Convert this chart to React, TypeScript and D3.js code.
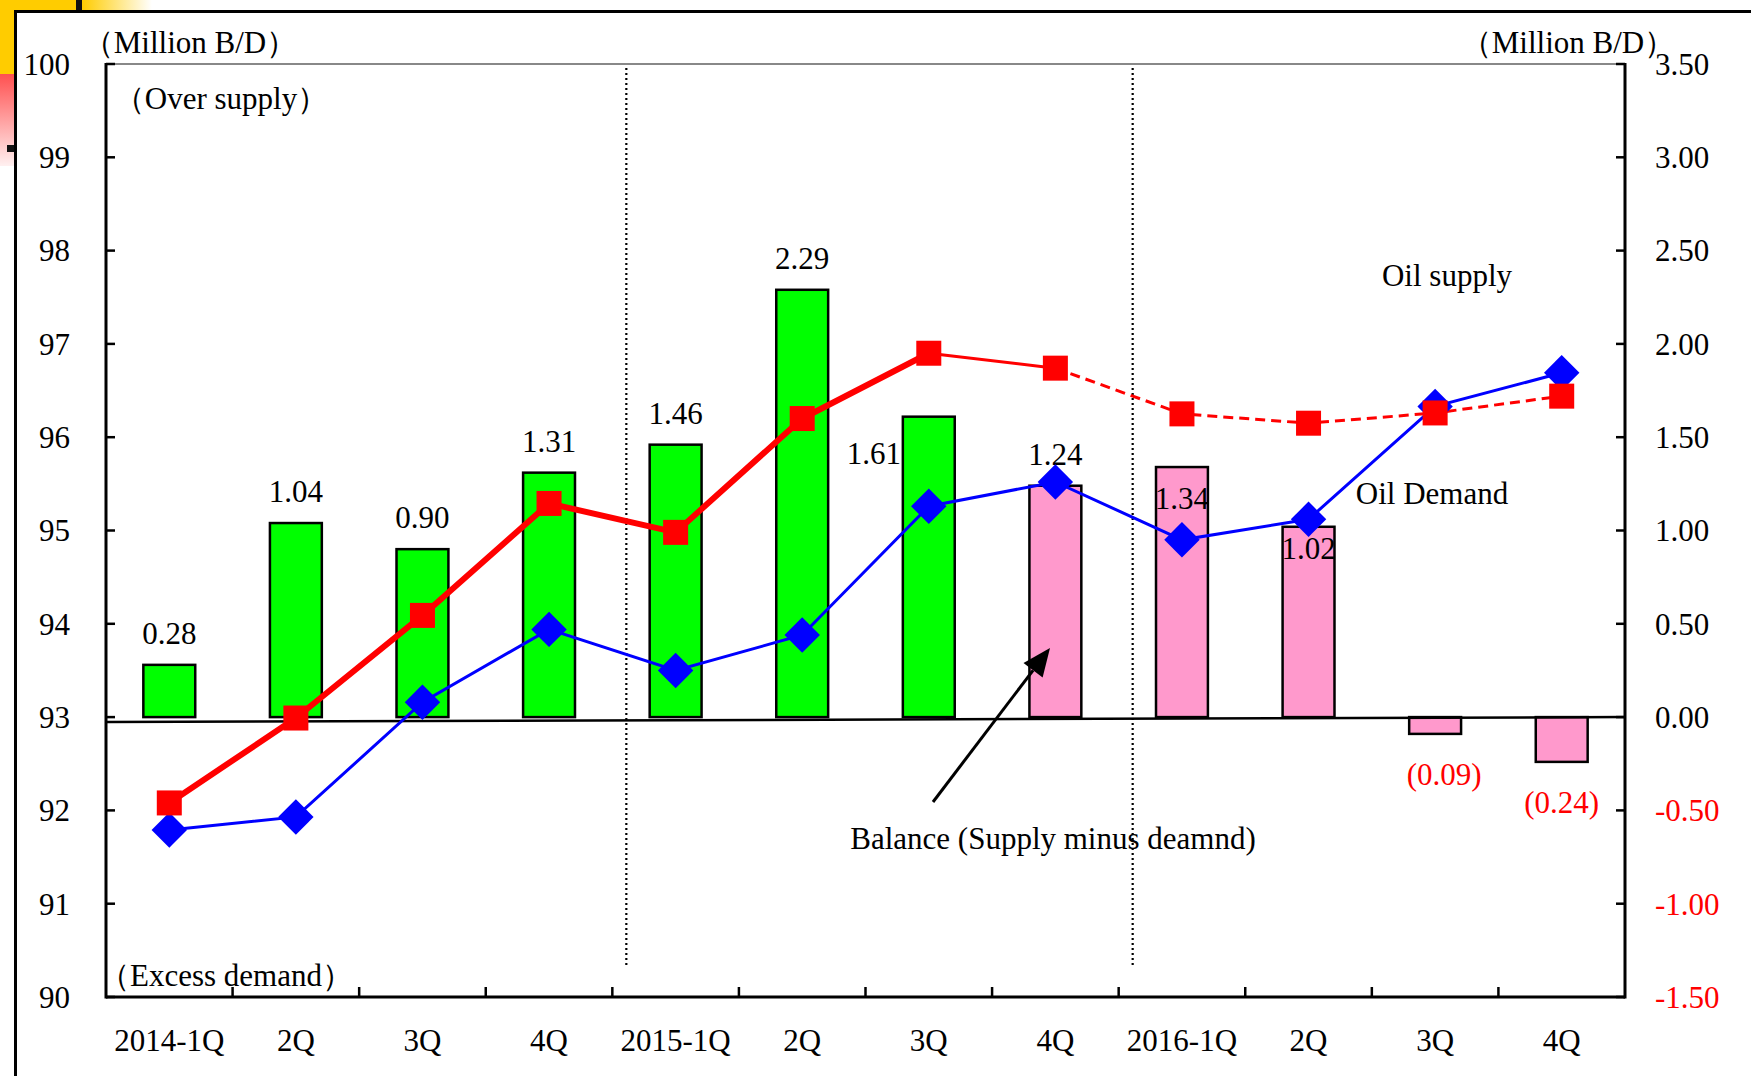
import React from 'react'
import * as d3 from 'd3'

const quarters = ['2014-1Q', '2Q', '3Q', '4Q', '2015-1Q', '2Q', '3Q', '4Q', '2016-1Q', '2Q', '3Q', '4Q']
const balance = [0.28, 1.04, 0.9, 1.31, 1.46, 2.29, 1.61, 1.24, 1.34, 1.02, -0.09, -0.24]
const balanceLabels = ['0.28', '1.04', '0.90', '1.31', '1.46', '2.29', '1.61', '1.24', '1.34', '1.02', '(0.09)', '(0.24)']
const oilSupply = [92.08, 92.99, 94.09, 95.29, 94.98, 96.2, 96.9, 96.74, 96.25, 96.15, 96.26, 96.44]
const oilDemand = [91.79, 91.93, 93.16, 93.94, 93.5, 93.88, 95.26, 95.52, 94.9, 95.12, 96.33, 96.69]
const leftTicks = [90, 91, 92, 93, 94, 95, 96, 97, 98, 99, 100]
const rightTicks = [3.5, 3.0, 2.5, 2.0, 1.5, 1.0, 0.5, 0.0, -0.5, -1.0, -1.5]

// label nudges (dx, dy) for the bar values that sit off the default spot
const labelNudge: Record<number, [number, number]> = {
  6: [-55, 68],
  8: [0, 63],
  9: [0, 53],
  10: [9, 0],
}

const W = 1751
const H = 1076
const L = 106, R = 1625, T = 64, B = 997
const FONT = '"Liberation Serif", "Times New Roman", serif'
const FS = 31

export default function App() {
  const x = d3.scaleBand<number>().domain(d3.range(quarters.length)).range([L, R])
  const yL = d3.scaleLinear().domain([90, 100]).range([B, T])
  const yR = d3.scaleLinear().domain([-1.5, 3.5]).range([B, T])
  const cx = (i: number) => (x(i) as number) + x.bandwidth() / 2
  const bw = x.bandwidth() * 0.41
  const fmtR = (t: number) => d3.format('.2f')(t).replace('\u2212', '-')

  const line = d3.line<number>().x((_, i) => cx(i)).y(d => yL(d))
  const supplyPts = oilSupply.map((v, i) => [cx(i), yL(v)] as [number, number])
  const seg = (a: number, b: number) =>
    d3.line<[number, number]>()(supplyPts.slice(a, b + 1)) as string

  const dividers = [4, 8].map(i => (x(i) as number) + 14)

  // arrow
  const a0: [number, number] = [933, 802]
  const a1: [number, number] = [1050, 648]
  const ang = Math.atan2(a1[1] - a0[1], a1[0] - a0[0])
  const hl = 28, hw = 12
  const bx = a1[0] - hl * Math.cos(ang), by = a1[1] - hl * Math.sin(ang)
  const head = [
    a1,
    [bx + hw * Math.sin(ang), by - hw * Math.cos(ang)],
    [bx - hw * Math.sin(ang), by + hw * Math.cos(ang)],
  ].map(p => p.join(',')).join(' ')

  return (
    <svg width={W} height={H} style={{ position: 'absolute', left: 0, top: 0, background: '#fff' }}
      fontFamily={FONT} fontSize={FS}>
      <defs>
        <linearGradient id="yl" x1="0" x2="1" y1="0" y2="0">
          <stop offset="0" stopColor="#ffcc00" />
          <stop offset="1" stopColor="#ffffff" />
        </linearGradient>
        <linearGradient id="rd" x1="0" x2="0" y1="0" y2="1">
          <stop offset="0" stopColor="#ff5050" />
          <stop offset="1" stopColor="#fff0f0" />
        </linearGradient>
      </defs>
      <rect width={W} height={H} fill="#fff" />
      {/* slide decoration */}
      <rect x={0} y={0} width={15} height={74} fill="#ffcc00" />
      <rect x={15} y={0} width={68} height={11} fill="#ffcc00" />
      <rect x={82} y={0} width={70} height={11} fill="url(#yl)" />
      <rect x={0} y={74} width={15} height={92} fill="url(#rd)" />
      <rect x={76} y={0} width={6} height={11} fill="#111" />
      <rect x={7} y={145} width={7} height={7} fill="#111" />
      <path d={`M15.5,${H}V11.5H${W}`} fill="none" stroke="#000" strokeWidth={3} />

      {/* plot frame */}
      <line x1={L} x2={R} y1={T} y2={T} stroke="#888" strokeWidth={2} />

      {/* bars */}
      {balance.map((v, i) => (
        <rect key={i} x={cx(i) - bw / 2} width={bw}
          y={Math.min(yR(v), yR(0))} height={Math.abs(yR(v) - yR(0))}
          fill={i < 7 ? '#00ff00' : '#ff99cc'} stroke="#000" strokeWidth={2.5} />
      ))}
      {/* zero line */}
      <line x1={L} x2={R} y1={yR(0) + 5} y2={yR(0)} stroke="#000" strokeWidth={2.5} />

      {/* dividers */}
      {dividers.map((d, k) => (
        <line key={k} x1={d} x2={d} y1={T + 4} y2={967} stroke="#000" strokeWidth={2.2}
          strokeDasharray="2 3" />
      ))}

      {/* bar labels */}
      {balance.map((v, i) => {
        const [dx, dy] = labelNudge[i] || [0, 0]
        const baseY = v >= 0 ? yR(v) - 32 : yR(v) + 40
        return (
          <text key={i} x={cx(i) + dx} y={baseY + dy} dy="0.35em" textAnchor="middle"
            fill={v >= 0 ? '#000' : '#ff0000'}>{balanceLabels[i]}</text>
        )
      })}

      {/* supply line */}
      <path d={seg(0, 6)} fill="none" stroke="#ff0000" strokeWidth={6} strokeLinejoin="round" />
      <path d={seg(6, 7)} fill="none" stroke="#ff0000" strokeWidth={3} />
      <path d={seg(7, 11)} fill="none" stroke="#ff0000" strokeWidth={3} strokeDasharray="10 6" />
      {/* demand line */}
      <path d={line(oilDemand) as string} fill="none" stroke="#0000ff" strokeWidth={3} />
      {oilDemand.map((v, i) => (
        <path key={i} d={d3.symbol(d3.symbolDiamond2, 800)() as string}
          transform={`translate(${cx(i)},${yL(v)})`} fill="#0000ff" />
      ))}
      {oilSupply.map((v, i) => (
        <rect key={i} x={cx(i) - 12.5} y={yL(v) - 12.5} width={25} height={25} fill="#ff0000" />
      ))}

      {/* axes */}
      <line x1={L} x2={L} y1={T - 1} y2={B + 1.5} stroke="#000" strokeWidth={3} />
      <line x1={R} x2={R} y1={T - 1} y2={B + 1.5} stroke="#000" strokeWidth={3} />
      <line x1={L} x2={R} y1={B} y2={B} stroke="#000" strokeWidth={3} />
      {leftTicks.map(t => (
        <g key={t}>
          <line x1={L} x2={L + 9} y1={yL(t)} y2={yL(t)} stroke="#000" strokeWidth={2.5} />
          <text x={70} y={yL(t)} dy="0.35em" textAnchor="end">{t}</text>
        </g>
      ))}
      {rightTicks.map(t => (
        <g key={t}>
          <line x1={R - 9} x2={R} y1={yR(t)} y2={yR(t)} stroke="#000" strokeWidth={2.5} />
          <text x={1655} y={yR(t)} dy="0.35em" fill={t < 0 ? '#ff0000' : '#000'}>{fmtR(t)}</text>
        </g>
      ))}
      {d3.range(1, quarters.length).map(i => (
        <line key={i} x1={x(i)} x2={x(i)} y1={B} y2={B - 10} stroke="#000" strokeWidth={2.5} />
      ))}
      {quarters.map((q, i) => (
        <text key={i} x={cx(i)} y={1040} dy="0.35em" textAnchor="middle">{q}</text>
      ))}

      {/* annotations */}
      <text x={190} y={42} dy="0.35em" textAnchor="middle">（Million B/D）</text>
      <text x={1568} y={42} dy="0.35em" textAnchor="middle">（Million B/D）</text>
      <text x={221} y={98} dy="0.35em" textAnchor="middle">（Over supply）</text>
      <text x={226} y={975} dy="0.35em" textAnchor="middle">（Excess demand）</text>
      <text x={1447} y={275} dy="0.35em" textAnchor="middle">Oil supply</text>
      <text x={1432} y={493} dy="0.35em" textAnchor="middle">Oil Demand</text>
      <text x={1053} y={838} dy="0.35em" textAnchor="middle">Balance (Supply minus deamnd)</text>
      <line x1={a0[0]} y1={a0[1]} x2={bx} y2={by} stroke="#000" strokeWidth={3} />
      <polygon points={head} fill="#000" />
    </svg>
  )
}
